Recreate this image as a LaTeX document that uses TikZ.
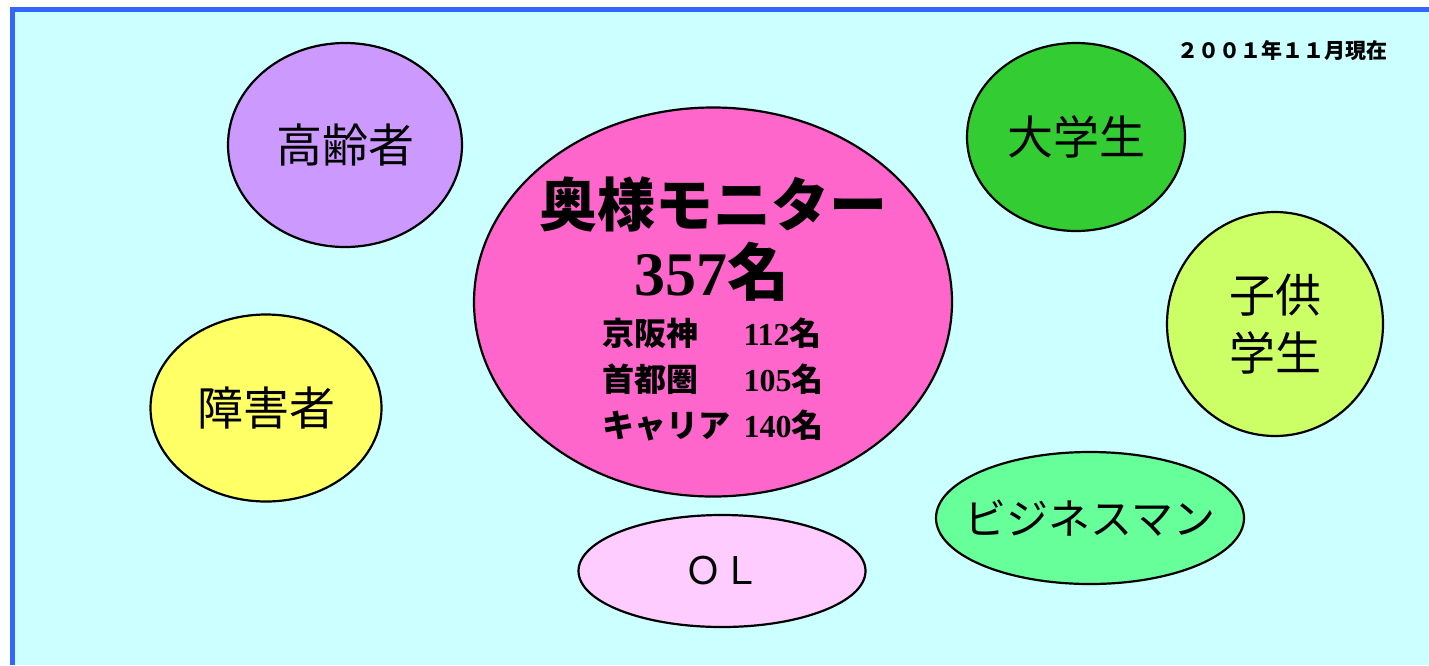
\documentclass[tikz,border=0pt]{standalone}
\usepackage{fontspec}
\usetikzlibrary{shapes.geometric}
\newfontfamily\jp{Noto Sans CJK JP}
\newfontfamily\tnr{Liberation Serif}
\definecolor{bg}{HTML}{CCFFFF}
\definecolor{frame}{HTML}{3366FF}
\definecolor{cPurple}{HTML}{CC99FF}
\definecolor{cPink}{HTML}{FF66CC}
\definecolor{cGreen}{HTML}{33CC33}
\definecolor{cLime}{HTML}{CCFF66}
\definecolor{cYellow}{HTML}{FFFF66}
\definecolor{cMint}{HTML}{66FF99}
\definecolor{cLpink}{HTML}{FFCCFF}
\tikzset{
  bub/.style={ellipse, draw=black, line width=2.2pt, inner sep=0pt},
  lab/.style={font=\jp\fontsize{46}{52}\selectfont, align=center, text=black},
}
\begin{document}
\begin{tikzpicture}[x=1pt,y=-1pt]
\useasboundingbox (0,0) rectangle (1429,665);
\fill[bg] (12.5,9.5) rectangle (1429,665);
\draw[frame, line width=5pt] (12.5,665) -- (12.5,9.5) -- (1429,9.5);
\node[font=\jp\bfseries\fontsize{21}{24}\selectfont] (date) at (1282,51) {２００１年１１月現在};
% bubbles
\node[bub, fill=cPurple, minimum width=234pt, minimum height=204pt] (old) at (345,145) {};
\node[lab] at (old.center) {高齢者};
\node[bub, fill=cPink, minimum width=478pt, minimum height=389pt] (main) at (713,302) {};
\node[font=\jp\bfseries\fontsize{58}{60}\selectfont] (title) at (713,204) {奥様モニター};
\node[font=\jp\bfseries\fontsize{62}{64}\selectfont] (count) at (712,272) {{\tnr\bfseries 357}名};
\node[font=\jp\bfseries\fontsize{32}{46}\selectfont, inner sep=0pt, anchor=north] (sub) at (713,313) {%
\begin{tabular}{@{}l@{\hspace{13pt}}l@{}}
京阪神 & {\tnr\bfseries 112}名\\
首都圏 & {\tnr\bfseries 105}名\\
キャリア & {\tnr\bfseries 140}名
\end{tabular}};
\node[bub, fill=cGreen, minimum width=218pt, minimum height=188pt] (univ) at (1076,137) {};
\node[lab] at (univ.center) {大学生};
\node[bub, fill=cLime, minimum width=216pt, minimum height=224pt] (kids) at (1275,324) {};
\node[lab, font=\jp\fontsize{46}{58}\selectfont] at (kids.center) {子供\\学生};
\node[bub, fill=cYellow, minimum width=231pt, minimum height=187pt] (dis) at (266,408) {};
\node[lab] at (dis.center) {障害者};
\node[bub, fill=cMint, minimum width=308pt, minimum height=132pt] (biz) at (1090,518) {};
\node[lab, font=\jp\fontsize{42}{48}\selectfont] at (biz.center) {ビジネスマン};
\node[bub, fill=cLpink, minimum width=287pt, minimum height=112pt] (ol) at (722,571) {};
\node[lab, font=\jp\fontsize{38}{44}\selectfont] at (ol.center) {ＯＬ};
\end{tikzpicture}
\end{document}
